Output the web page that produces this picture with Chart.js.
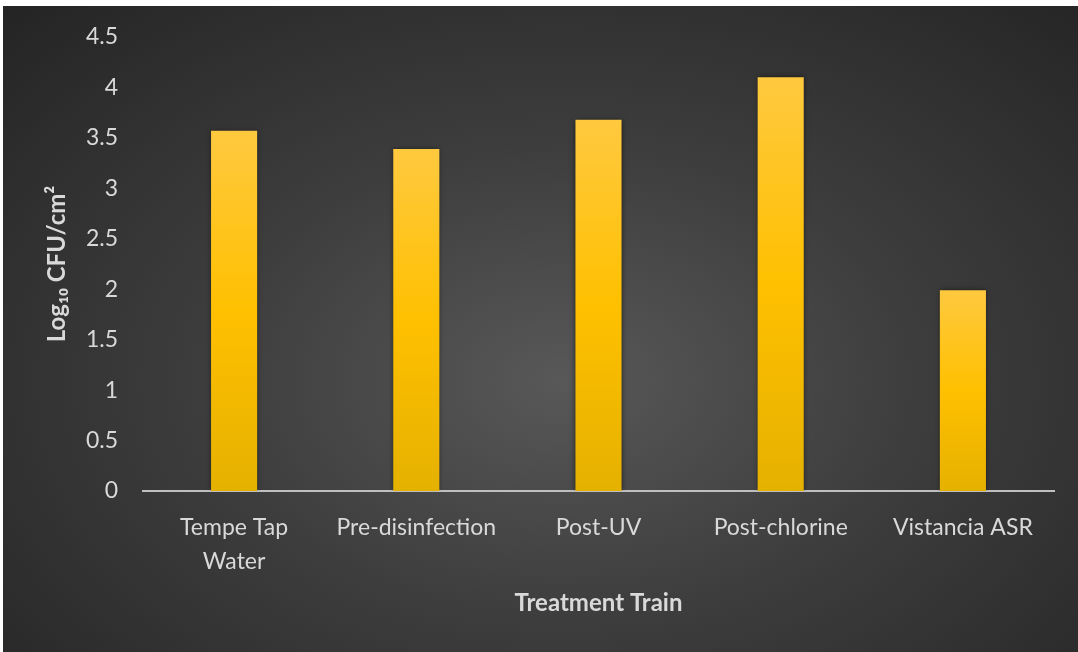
<!DOCTYPE html>
<html>
<head>
<meta charset="utf-8">
<script src="https://cdn.jsdelivr.net/npm/chart.js@4.4.1/dist/chart.umd.min.js"></script>
<style>
  html, body { margin: 0; padding: 0; background: #fff; }
  #wrap {
    position: absolute; left: 3px; top: 6px; width: 1075px; height: 646px;
    background: radial-gradient(ellipse farthest-corner at 52% 58%, #585858 0%, #3d3d3d 45%, #242424 100%);
  }
  #wrap canvas { display: block; }
</style>
</head>
<body>
<div id="wrap"><canvas id="canvas-1" width="1075" height="646"></canvas></div>
<script>
(function () {
    'use strict';

    // values
    var categories = [['Tempe Tap', 'Water'], 'Pre-disinfection', 'Post-UV', 'Post-chlorine', 'Vistancia ASR'];
    var logCfu = [3.57, 3.39, 3.68, 4.10, 1.99];
    var yMax = 4.5;
    var yStep = 0.5;

    var labelColor = '#d9d9d9';
    var fontFamily = 'Lato, "Open Sans", sans-serif';

    // per-bar vertical gradient like the office fill
    var barFill = function (context) {
        var chart = context.chart;
        var y = chart.scales.y;
        if (!chart.chartArea || !y || context.raw == null) return '#ffc000';
        var top = y.getPixelForValue(context.raw);
        var bottom = y.getPixelForValue(0);
        var g = chart.ctx.createLinearGradient(0, top, 0, bottom);
        g.addColorStop(0, '#ffc93f');
        g.addColorStop(0.5, '#ffc000');
        g.addColorStop(1, '#e5b100');
        return g;
    };

    var shadowPlugin = {
        id: 'barShadow',
        beforeDatasetsDraw: function (chart) {
            var ctx = chart.ctx;
            ctx.save();
            ctx.shadowColor = 'rgba(0,0,0,0.55)';
            ctx.shadowBlur = 5;
        },
        afterDatasetsDraw: function (chart) {
            chart.ctx.restore();
        }
    };

    var ctx = document.getElementById('canvas-1');
    var chart = new Chart(ctx, {
        type: 'bar',
        data: {
            labels: categories,
            datasets: [{
                label: 'Log10 CFU/cm2',
                data: logCfu,
                backgroundColor: barFill,
                borderWidth: 0,
                categoryPercentage: 1,
                barPercentage: 0.253
            }]
        },
        options: {
            responsive: false,
            animation: false,
            layout: { padding: { top: 31, right: 24, bottom: 0, left: 0 } },
            plugins: {
                legend: { display: false },
                tooltip: { enabled: false }
            },
            scales: {
                y: {
                    min: 0,
                    max: yMax,
                    grid: { display: false, drawTicks: false },
                    border: { display: false },
                    ticks: {
                        stepSize: yStep,
                        padding: 25,
                        color: labelColor,
                        font: { family: fontFamily, size: 23 },
                        callback: function (v) { return String(v); }
                    },
                    title: {
                        display: true,
                        text: 'Log\u2081\u2080 CFU/cm\u00b2',
                        color: labelColor,
                        padding: { top: 40, bottom: 0 },
                        font: { family: fontFamily, size: 24, weight: 'bold' }
                    },
                    afterFit: function (scale) {
                        scale.width = 140;
                        scale.paddingTop = 0;
                        scale.paddingBottom = 0;
                    }
                },
                x: {
                    grid: { display: false, drawTicks: false },
                    border: { display: true, color: '#bfbfbf', width: 2 },
                    ticks: {
                        padding: 19,
                        color: labelColor,
                        maxRotation: 0,
                        autoSkip: false,
                        font: { family: fontFamily, size: 23, lineHeight: 1.5 }
                    },
                    title: {
                        display: true,
                        text: 'Treatment Train',
                        color: labelColor,
                        padding: { top: 0, bottom: 34 },
                        font: { family: fontFamily, size: 24, weight: 'bold' }
                    },
                    afterFit: function (scale) { scale.height = 161; }
                }
            }
        },
        plugins: [shadowPlugin]
    });
})();
</script>
</body>
</html>
